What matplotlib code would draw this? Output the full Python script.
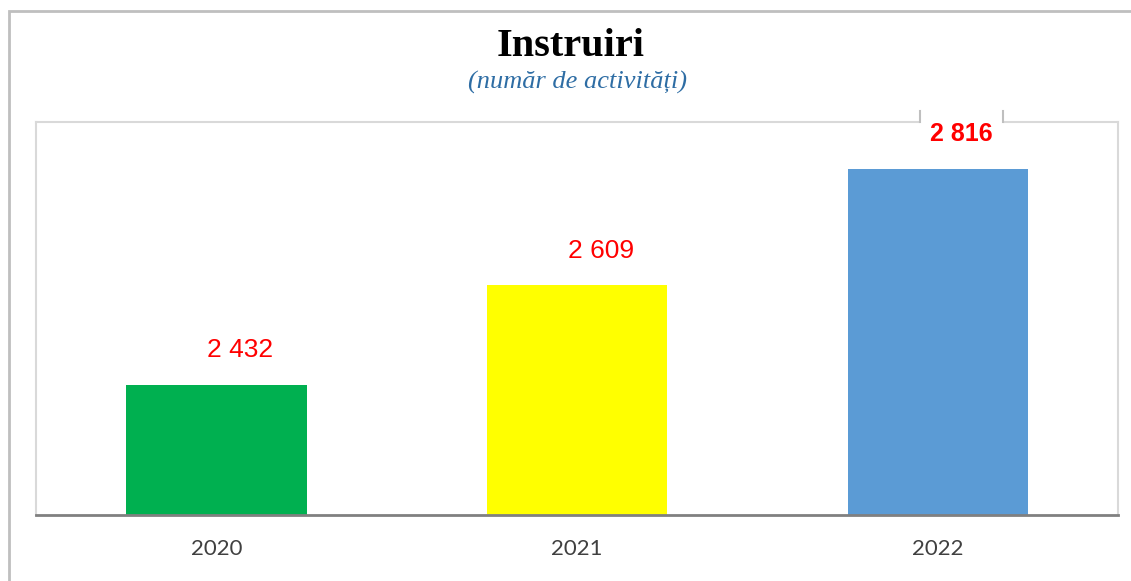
import matplotlib.pyplot as plt
from matplotlib.patches import Rectangle

years = ['2020', '2021', '2022']
values = [2432, 2609, 2816]
colors = ['#00B050', '#FFFF00', '#5B9BD5']
labels = ['2 432', '2 609', '2 816']

fig = plt.figure(figsize=(11.31, 5.81), dpi=100)
ax = fig.add_axes([36/1131, 66/581, 1082/1131, 393/581])

bars = ax.bar(years, values, width=0.5, color=colors, zorder=2)
ax.set_xlim(-0.5, 2.5)
ax.set_ylim(2200, 2900)
ax.set_yticks([])
ax.tick_params(axis='x', length=0, pad=17, labelsize=16, labelcolor='#404040')
for lb in ax.get_xticklabels():
    lb.set_family('Lato')

for s in ['top', 'left', 'right']:
    ax.spines[s].set_color('#D9D9D9')
    ax.spines[s].set_linewidth(1.5)
ax.spines['bottom'].set_color('#808080')
ax.spines['bottom'].set_linewidth(2)

# value labels, the last one bold with a white box over the frame
for i, (v, t) in enumerate(zip(values, labels)):
    last = i == len(values) - 1
    txt = ax.annotate(t, (i, v), xytext=(17, 25), textcoords='offset points',
                      ha='center', va='center', fontsize=18 if last else 19,
                      color='#FF0000', family='Liberation Sans',
                      fontweight='bold' if last else 'normal',
                      annotation_clip=False, zorder=5)
    if last:
        txt.set_bbox(dict(boxstyle='square,pad=0.4', fc='white', ec='none'))

fig.canvas.draw()
# small side marks of the label box above the frame
bb = ax.texts[-1].get_bbox_patch().get_window_extent()
top_y = ax.get_window_extent().y1
for x in [bb.x0, bb.x1]:
    fig.add_artist(plt.Line2D([x / 1131, x / 1131], [top_y / 581, (top_y + 11) / 581],
                              color='#BFBFBF', lw=1.5, transform=fig.transFigure))

# outer chart border
fig.add_artist(Rectangle((9/1131, -0.1), 1.2, 1.1 - 10.5/581, transform=fig.transFigure,
                         fill=False, ec='#BFBFBF', lw=2))

fig.text(571/1131, 1 - 47/581, 'Instruiri', ha='center', va='center', fontsize=29,
         fontweight='bold', family='Liberation Serif', color='black')
fig.text(577/1131, 1 - 82/581, '(număr de activități)', ha='center', va='center', fontsize=19,
         style='italic', family='Liberation Serif', color='#2E6DA4')

fig.savefig('out.png', dpi=100)
